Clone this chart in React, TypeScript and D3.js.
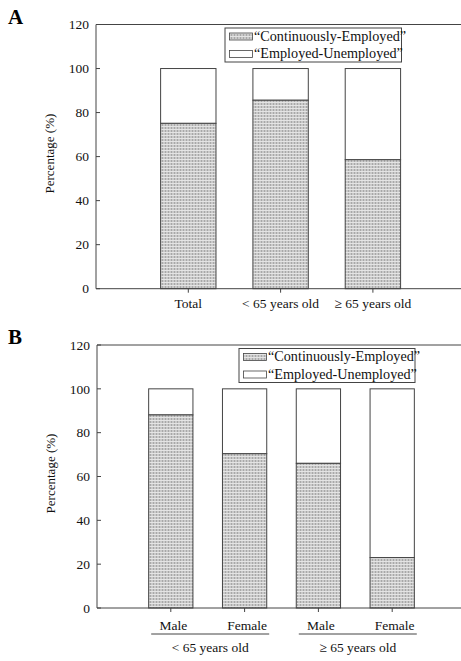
import React from "react";
import * as d3 from "d3";

const catsA = ["Total", "< 65 years old", "\u2265 65 years old"];
const contA = [75.1, 85.6, 58.6];
const catsB = ["Male", "Female", "Male", "Female"];
const contB = [88.1, 70.4, 66.0, 23.0];
const groupsB = ["< 65 years old", "\u2265 65 years old"];
const yTicks = [0, 20, 40, 60, 80, 100, 120];
const legendLabels = ["\u201CContinuously-Employed\u201D", "\u201CEmployed-Unemployed\u201D"];
const TOTAL = 100;

const FONT = "'Liberation Serif', 'Times New Roman', serif";
const STROKE = "#444";

type PanelProps = {
  top: number;
  bottom: number;
  left: number;
  right: number;
  cats: string[];
  vals: number[];
  letter: string;
  legendX: number;
  legendW: number;
  grouped?: boolean;
};

function Panel({ top, bottom, left, right, cats, vals, letter, legendX, legendW, grouped }: PanelProps) {
  const n = cats.length;
  const x = d3.scaleLinear().domain([0, n + 1]).range([left, right]);
  const y = d3.scaleLinear().domain([0, 120]).range([bottom, top]);
  const step = x(1) - x(0);
  const bw = step * 0.6;
  const legendY = top + 3.5;
  return (
    <g fontFamily={FONT}>
      <text x={8} y={top - 1} fontSize={21} fontWeight="bold" fill="#000">{letter}</text>
      {vals.map((v, i) => {
        const cx = x(i + 1);
        return (
          <g key={i}>
            <rect x={cx - bw / 2} y={y(TOTAL)} width={bw} height={y(v) - y(TOTAL)} fill="#fff" stroke={STROKE} strokeWidth={1} />
            <rect x={cx - bw / 2} y={y(v)} width={bw} height={y(0) - y(v)} fill="url(#dots)" stroke={STROKE} strokeWidth={1} />
          </g>
        );
      })}
      <line x1={left} x2={right} y1={top} y2={top} stroke={STROKE} />
      <line x1={left} x2={left} y1={top} y2={bottom} stroke={STROKE} />
      <line x1={left} x2={right} y1={bottom} y2={bottom} stroke={STROKE} />
      {yTicks.map((t) => (
        <g key={t}>
          <line x1={left} x2={left + 4} y1={y(t)} y2={y(t)} stroke={STROKE} />
          <text x={left - 7} y={y(t)} dy="0.35em" textAnchor="end" fontSize={13.5} fill="#111">{t}</text>
        </g>
      ))}
      {cats.map((c, i) => (
        <g key={i}>
          <line x1={x(i + 1)} x2={x(i + 1)} y1={bottom} y2={bottom + 4} stroke={STROKE} />
          <text x={x(i + 1) + (grouped ? 2.5 : 0)} y={bottom + (grouped ? 22 : 19)} textAnchor="middle" fontSize={13.5} fill="#111">{c}</text>
        </g>
      ))}
      {grouped &&
        groupsB.map((g, gi) => {
          const c = x(gi * 2 + 1.5) + 2.5;
          return (
            <g key={g}>
              <line x1={c - 59} x2={c + 59} y1={bottom + 26} y2={bottom + 26} stroke={STROKE} />
              <text x={c} y={bottom + 44} textAnchor="middle" fontSize={13.5} fill="#111">{g}</text>
            </g>
          );
        })}
      <text transform={`translate(${left - 42},${(top + bottom) / 2 - 3}) rotate(-90)`} textAnchor="middle" fontSize={13} fill="#111">Percentage (%)</text>
      <rect x={legendX} y={legendY} width={legendW} height={34} fill="#fff" stroke={STROKE} />
      {legendLabels.map((l, i) => (
        <g key={l}>
          <rect x={legendX + 4.5} y={legendY + 5 + i * 17.5} width={23} height={7} fill={i === 0 ? "url(#dots)" : "#fff"} stroke={STROKE} strokeWidth={0.8} />
          <text x={legendX + 29} y={legendY + 12.8 + i * 17.5} fontSize={14.2} fill="#111">{l}</text>
        </g>
      ))}
    </g>
  );
}

export default function App() {
  return (
    <svg width={461} height={661} style={{ position: "absolute", left: 0, top: 0, background: "#fff" }}>
      <defs>
        <pattern id="dots" width={3} height={3} patternUnits="userSpaceOnUse">
          <rect width={3} height={3} fill="#c9c9c9" />
          <rect x={0} y={0} width={1} height={3} fill="#a8a8a8" />
          <rect x={0} y={0} width={3} height={1} fill="#e4e4e4" />
        </pattern>
      </defs>
      <Panel top={24.5} bottom={288.7} left={96} right={465.2} cats={catsA} vals={contA} letter="A" legendX={225} legendW={176.5} />
      <Panel top={345} bottom={608} left={97} right={466} cats={catsB} vals={contB} letter="B" legendX={239} legendW={176} grouped />
    </svg>
  );
}
